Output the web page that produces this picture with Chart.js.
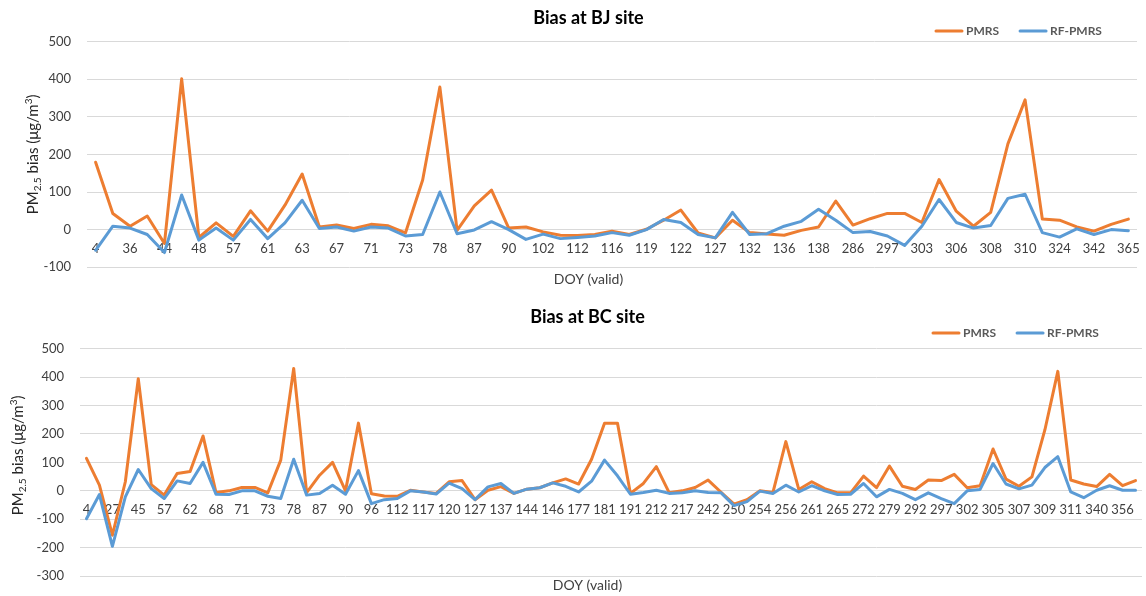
<!DOCTYPE html>
<html>
<head>
<meta charset="utf-8">
<script src="https://cdn.jsdelivr.net/npm/chart.js@4/dist/chart.umd.min.js"></script>
<style>
  html, body { margin: 0; padding: 0; background: #fff; }
  .panel { position: relative; width: 1146px; height: 298px; }
</style>
</head>
<body>
<div class="panel"><canvas id="bjChart"></canvas></div>
<div class="panel"><canvas id="bcChart"></canvas></div>
<script>
// --- BJ site ---
const bjTicks = ['4', '36', '44', '48', '57', '61', '63', '67', '71', '73', '78', '87', '90', '102', '112', '116',
    '119', '122', '127', '132', '136', '138', '286', '297', '303', '306', '308', '310', '324', '342', '365'];
const bjPMRS = [179, 43, 9, 36, -37, 401, -21, 18, -18, 50,
    -4, 65, 148, 7, 12, 3, 14, 10, -9, 132,
    379, -2, 63, 105, 4, 7, -6, -15, -16, -13,
    -4, -13, 1, 25, 52, -9, -22, 25, -8, -12,
    -15, -2, 7, 76, 12, 29, 43, 43, 19, 133,
    49, 9, 46, 228, 345, 28, 25, 7, -4, 14,
    28];
const bjRF = [-55, 9, 4, -13, -61, 92, -28, 4, -28, 27,
    -24, 18, 78, 3, 7, -4, 7, 4, -17, -13,
    100, -11, -1, 21, 0, -26, -12, -24, -21, -17,
    -8, -15, 0, 27, 19, -13, -22, 46, -13, -11,
    9, 22, 54, 25, -8, -5, -17, -42, 9, 80,
    19, 4, 11, 83, 94, -8, -20, 2, -13, 0,
    -3];

// --- BC site ---
const bcTicks = ['4', '27', '45', '57', '62', '68', '71', '73', '78', '87', '90', '96', '112', '117', '120', '127',
    '137', '144', '146', '177', '181', '191', '212', '217', '242', '250', '254', '256', '261', '265', '272',
    '279', '292', '297', '302', '305', '307', '309', '311', '340', '356'];
const bcPMRS = [114, 20, -156, 32, 394, 22, -15, 61, 68, 193,
    -6, 0, 12, 12, -7, 108, 430, -6, 55, 100,
    0, 238, -10, -18, -19, 2, -4, -9, 32, 36,
    -31, 2, 15, -9, 6, 11, 28, 42, 24, 111,
    238, 238, -9, 26, 85, -7, 0, 12, 38, -5,
    -47, -31, 0, -6, 173, 5, 32, 8, -7, -7,
    52, 11, 87, 16, 5, 38, 36, 58, 11, 18,
    147, 41, 16, 49, 214, 420, 38, 24, 15, 58,
    18, 36];
const bcRF = [-98, -13, -195, -21, 75, 8, -27, 35, 26, 100,
    -12, -13, 0, 0, -19, -27, 111, -15, -9, 20,
    -12, 71, -45, -31, -27, 0, -4, -11, 27, 8,
    -31, 14, 26, -9, 6, 11, 28, 16, -4, 34,
    108, 53, -12, -6, 2, -9, -7, 0, -6, -7,
    -52, -38, -1, -9, 20, -4, 18, 0, -13, -12,
    26, -21, 5, -9, -31, -7, -27, -45, 0, 5,
    96, 24, 7, 20, 82, 120, -4, -24, 2, 18,
    2, 2];

const ORANGE = '#ED7D31';
const BLUE = '#5B9BD5';
const FONT = "Lato, 'Open Sans', sans-serif";

Chart.defaults.font.family = FONT;
Chart.defaults.color = '#595959';

// only every other day gets a label, like the excel axis
function buildLabels(ticks, n) {
    const out = [];
    for (let i = 0; i < n; i++) out.push(i % 2 === 0 ? ticks[i / 2] : '');
    return out;
}

// y title with sub/superscript (PM2.5, m3)
const yTitlePlugin = {
    id: 'yTitle',
    afterDraw(chart, args, opts) {
        const { ctx, chartArea } = chart;
        const parts = [
            { t: 'PM', size: 15, dy: 0 },
            { t: '2.5', size: 10, dy: 3 },
            { t: ' bias (\u03bcg/m', size: 15, dy: 0 },
            { t: '3', size: 10, dy: -6 },
            { t: ')', size: 15, dy: 0 }
        ];
        ctx.save();
        let total = 0;
        parts.forEach(p => {
            ctx.font = p.size + 'px ' + FONT;
            p.w = ctx.measureText(p.t).width;
            total += p.w;
        });
        const cy = (chartArea.top + chartArea.bottom) / 2 + (opts.dy || 0);
        ctx.translate(opts.x, cy);
        ctx.rotate(-Math.PI / 2);
        ctx.fillStyle = '#262626';
        ctx.textBaseline = 'alphabetic';
        let x = -total / 2;
        parts.forEach(p => {
            ctx.font = p.size + 'px ' + FONT;
            ctx.fillText(p.t, x, p.dy);
            x += p.w;
        });
        ctx.restore();
    }
};

// line-sample legend in the top right corner
const lineLegendPlugin = {
    id: 'lineLegend',
    afterDraw(chart, args, opts) {
        const ctx = chart.ctx;
        ctx.save();
        ctx.font = 'bold 12px ' + FONT;
        ctx.textBaseline = 'middle';
        let x = opts.x;
        chart.data.datasets.forEach(ds => {
            ctx.strokeStyle = ds.borderColor;
            ctx.lineWidth = 3;
            ctx.lineCap = 'round';
            ctx.beginPath();
            ctx.moveTo(x + 1, opts.y);
            ctx.lineTo(x + 27, opts.y);
            ctx.stroke();
            x += 31;
            ctx.fillStyle = '#595959';
            ctx.fillText(ds.label, x, opts.y);
            x += ctx.measureText(ds.label).width + 20;
        });
        ctx.restore();
    }
};

function makeChart(id, p) {
    const ctx = document.getElementById(id).getContext('2d');
    return new Chart(ctx, {
        type: 'line',
        data: {
            labels: buildLabels(p.ticks, p.pmrs.length),
            datasets: [
                { label: 'PMRS', data: p.pmrs, borderColor: ORANGE, backgroundColor: ORANGE, order: 2 },
                { label: 'RF-PMRS', data: p.rf, borderColor: BLUE, backgroundColor: BLUE, order: 1 }
            ]
        },
        options: {
            responsive: true, maintainAspectRatio: false, animation: false,
            layout: { padding: { left: p.padLeft, right: p.padRight, top: 0, bottom: 0 } },
            elements: {
                line: { borderWidth: 3, tension: 0, borderJoinStyle: 'round', borderCapStyle: 'round' },
                point: { radius: 0 }
            },
            scales: {
                x: {
                    type: 'category',
                    position: { y: 0 },
                    offset: true,
                    grid: { display: false },
                    border: { display: false },
                    ticks: { autoSkip: false, maxRotation: 0, minRotation: 0, padding: 3,
                        font: { size: 13 }, color: '#404040' }
                },
                y: {
                    min: p.yMin, max: 500,
                    ticks: { stepSize: 100, padding: 16, font: { size: 13 }, color: '#404040' },
                    grid: { color: '#D9D9D9', lineWidth: 1, drawTicks: false },
                    border: { display: false },
                    // fixed width, and no extra room above/below for the end labels
                    afterFit: s => { s.width = p.yWidth; s.paddingTop = 0; s.paddingBottom = 0; }
                }
            },
            plugins: {
                legend: { display: false },
                tooltip: { enabled: false },
                title: {
                    display: true, text: p.title, color: '#000',
                    font: { size: 18, weight: 'bold' },
                    padding: p.titlePad
                },
                subtitle: {
                    display: true, position: 'bottom', text: 'DOY (valid)', color: '#404040',
                    font: { size: 14, weight: 'normal' },
                    padding: p.subPad
                },
                yTitle: { x: p.yTitleX, dy: p.yTitleDy },
                lineLegend: { x: p.legendX, y: p.legendY }
            }
        },
        plugins: [yTitlePlugin, lineLegendPlugin]
    });
}

makeChart('bjChart', {
    title: 'Bias at BJ site', ticks: bjTicks, pmrs: bjPMRS, rf: bjRF, yMin: -100,
    padLeft: 40, padRight: 9, yWidth: 47,
    titlePad: { top: 7, bottom: 13 }, subPad: { top: 4, bottom: 10 },
    yTitleX: 38, yTitleDy: 0, legendX: 935, legendY: 31
});

makeChart('bcChart', {
    title: 'Bias at BC site', ticks: bcTicks, pmrs: bcPMRS, rf: bcRF, yMin: -300,
    padLeft: 33, padRight: 4, yWidth: 47,
    titlePad: { top: 8, bottom: 21 }, subPad: { top: 1, bottom: 2 },
    yTitleX: 23, yTitleDy: -7, legendX: 932, legendY: 35
});
</script>
</body>
</html>
